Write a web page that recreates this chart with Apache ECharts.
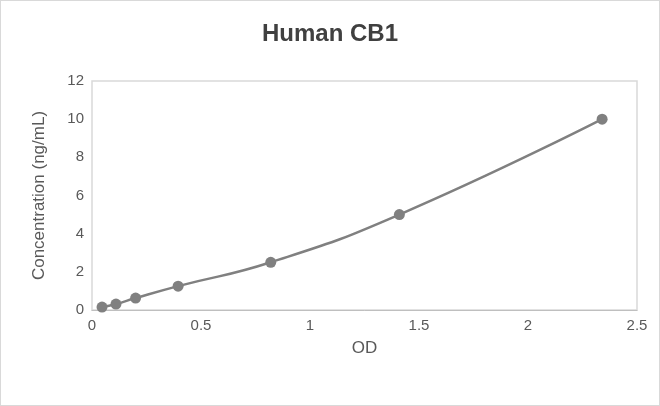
<!DOCTYPE html>
<html><head><meta charset="utf-8">
<script src="https://cdn.jsdelivr.net/npm/echarts@6/dist/echarts.min.js"></script>
<style>html,body{margin:0;padding:0;background:#fff}#c{width:658px;height:404px;border:1px solid #d9d9d9}</style>
</head><body><div id="c"></div>
<script>
var od = [0.046, 0.11, 0.2, 0.395, 0.82, 1.41, 2.34];
var conc = [0.156, 0.312, 0.625, 1.25, 2.5, 5, 10];
var pts = od.map(function (v, i) { return [v, conc[i]]; });
var chart = echarts.init(document.getElementById('c'));
chart.setOption({
  title: {text: 'Human CB1', left: 'center', top: 16, textStyle: {fontFamily: 'Liberation Sans', fontSize: 24, fontWeight: 'bold', color: '#404040'}},
  grid: {left: 91, right: 22, top: 80, bottom: 95, show: true, borderColor: '#d9d9d9', borderWidth: 1.5},
  xAxis: {type: 'value', min: 0, max: 2.5, interval: 0.5, name: 'OD', nameLocation: 'middle', nameGap: 30,
    nameTextStyle: {fontFamily: 'Liberation Sans', fontSize: 17, color: '#595959'},
    axisLine: {lineStyle: {color: '#bfbfbf'}}, axisTick: {show: false}, splitLine: {show: false},
    axisLabel: {fontFamily: 'Liberation Sans', fontSize: 15, color: '#595959'}},
  yAxis: {type: 'value', min: 0, max: 12, interval: 2, name: 'Concentration (ng/mL)', nameLocation: 'middle', nameGap: 44,
    nameTextStyle: {fontFamily: 'Liberation Sans', fontSize: 17, color: '#595959'},
    axisLine: {show: false}, axisTick: {show: false}, splitLine: {show: false},
    axisLabel: {fontFamily: 'Liberation Sans', fontSize: 15, color: '#595959'}},
  series: [{type: 'line', data: pts, smooth: true, symbol: 'circle', symbolSize: 11,
    lineStyle: {color: '#808080', width: 2.5}, itemStyle: {color: '#808080'}}]
});
</script></body></html>
